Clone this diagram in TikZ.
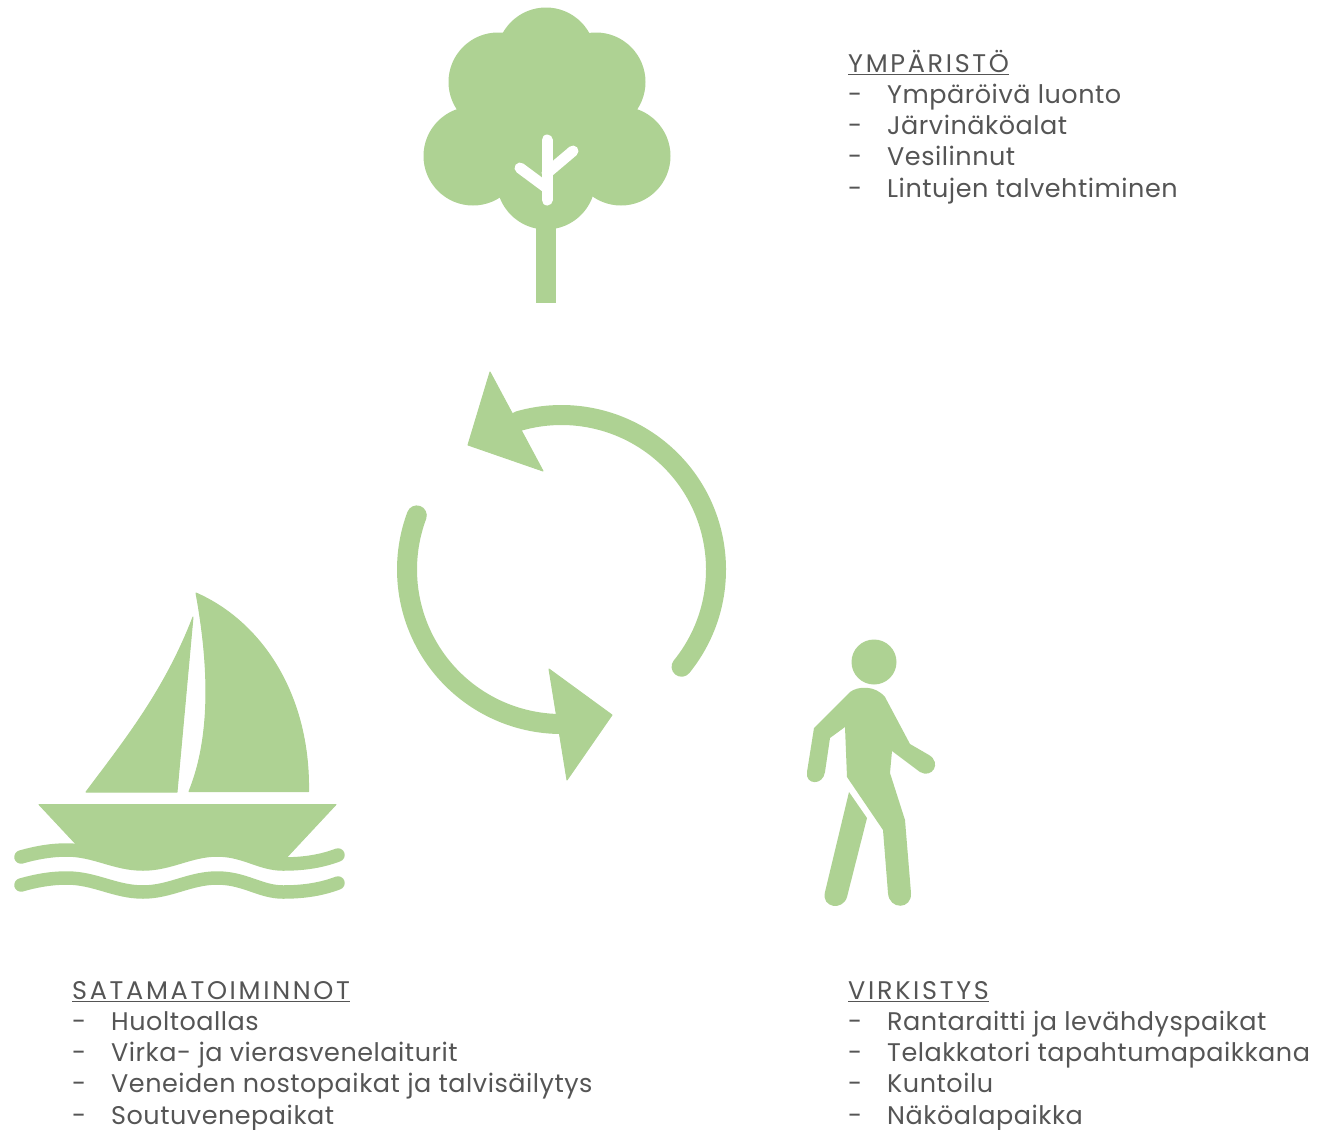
\documentclass[tikz,border=0pt]{standalone}
\usepackage{fontspec}
\usetikzlibrary{calc}
\setmainfont{Poppins}[LetterSpace=2]
\newfontfamily\headfont{Poppins}[LetterSpace=10.5]
\definecolor{leaf}{HTML}{AED293}
\definecolor{ink}{HTML}{555555}
\newcommand{\listhead}[1]{{\headfont\underline{#1}}}
\newcommand{\listline}[1]{\\\makebox[39pt][l]{-}#1}
\tikzset{
  icon/.style={fill=leaf,draw=leaf,line width=1pt,line join=round},
  ring/.style={draw=leaf,line width=20pt,line cap=round},
  wave/.style={draw=leaf,line width=13.5pt,line cap=round},
  twig/.style={draw=white,line width=11pt,line cap=round},
  listbox/.style={anchor=base west,inner sep=0pt,align=left,text=ink,
    font=\fontsize{25.5}{31.2}\selectfont}
}

\begin{document}
\begin{tikzpicture}[x=1pt,y=-1pt]
  \useasboundingbox (0,0) rectangle (1318,1130);
  \coordinate (hub) at (561.5,569.5);

  % Tree
  \fill[leaf] (536,210) rectangle (556,303);
  \foreach \cx/\cy in {546/57,498/82,596/82,473/156,621/156,546/180,546/120}
    \fill[leaf] (\cx,\cy) circle[radius=49.5];
  \draw[twig] (547,140) -- (547,200);
  \draw[twig] (547,173) -- (573,151);
  \draw[twig] (520,168) -- (547,188);

  % Circular arrows
  \draw[ring] ($(hub)+(39:154.5)$) arc[start angle=39,end angle=-106,radius=154.5];
  \draw[ring] ($(hub)+(200.5:154.5)$) arc[start angle=200.5,end angle=90,radius=154.5];
  \draw[icon] (490,372) -- (468,445) -- (543,471) -- cycle;
  \draw[icon] (549,669) -- (612,715) -- (567,780) -- cycle;

  % Boat
  \draw[icon] (86,792) .. controls (125,740) and (165,690) .. (193,617) -- (177,792) -- cycle;
  \draw[icon] (196,593) .. controls (262,622) and (310,695) .. (308.5,791.5) -- (189,791.5)
    .. controls (208,745) and (212,680) .. cycle;
  \draw[icon] (39,804.5) -- (336,804.5) -- (287,857) -- (283,864)
    .. controls (260,864) and (245,850) .. (217,850)
    .. controls (190,850) and (170,864) .. (143,864)
    .. controls (115,864) and (95,850) .. (75,848) -- (75,843) -- cycle;
  \foreach \dy in {0,-28}
    \draw[wave,shift={(0,\dy)}] (21,885) .. controls (35,881) and (50,878) .. (67,878)
      .. controls (95,878) and (115,892) .. (143,892)
      .. controls (170,892) and (190,878) .. (217,878)
      .. controls (245,878) and (260,892) .. (283,892)
      .. controls (305,892) and (322,889) .. (338,883);

  % Walker
  \fill[leaf] (874,662) circle[radius=22.5];
  \fill[leaf] (850,692) .. controls (858,686) and (875,685) .. (885,697) -- (910,744) -- (929,755)
    .. controls (942,763) and (932,779) .. (920,772) -- (892,751) -- (890,773) -- (905,820)
    -- (911,893) .. controls (912,910) and (889,910) .. (888,893) -- (883,830) -- (847,777)
    -- (845,727) -- (830,738) -- (825,772) .. controls (823,786) and (805,785) .. (807,772)
    -- (814,728) -- cycle;
  \fill[leaf] (849,792) -- (867,818) -- (847,897) .. controls (843,911) and (821,908) .. (825,892) -- cycle;

  % Lists
  \node[listbox] (ymparisto) at (848,197) {\listhead{YMPÄRISTÖ}%
    \listline{Ympäröivä luonto}\listline{Järvinäköalat}\listline{Vesilinnut}\listline{Lintujen talvehtiminen}};
  \node[listbox] (satama) at (72,1124) {\listhead{SATAMATOIMINNOT}%
    \listline{Huoltoallas}\listline{Virka- ja vierasvenelaiturit}\listline{Veneiden nostopaikat ja talvisäilytys}\listline{Soutuvenepaikat}};
  \node[listbox] (virkistys) at (848,1124) {\listhead{VIRKISTYS}%
    \listline{Rantaraitti ja levähdyspaikat}\listline{Telakkatori tapahtumapaikkana}\listline{Kuntoilu}\listline{Näköalapaikka}};
\end{tikzpicture}
\end{document}
